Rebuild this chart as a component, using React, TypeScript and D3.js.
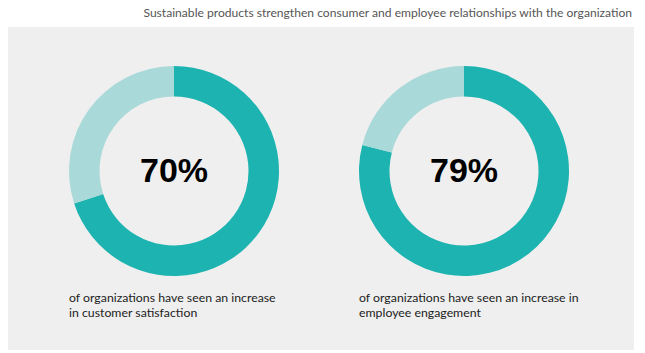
import { useEffect, useRef } from 'react';
import * as d3 from 'd3';

const title = 'Sustainable products strengthen consumer and employee relationships with the organization';
const metrics = ['customer satisfaction', 'employee engagement'];
const shares = [70, 79];
const captions = [
  ['of organizations have seen an increase', 'in customer satisfaction'],
  ['of organizations have seen an increase in', 'employee engagement'],
];

const width = 645;
const height = 353;

export default function App() {
  const svgRef = useRef<SVGSVGElement>(null);

  useEffect(() => {
    if (!svgRef.current) return;
    const svg = d3.select(svgRef.current);
    svg.selectAll('*').remove();

    // Title
    svg.append('text')
      .attr('x', 632)
      .attr('y', 17)
      .attr('text-anchor', 'end')
      .attr('font-family', 'Lato, sans-serif')
      .attr('font-size', '12.1px')
      .attr('fill', '#555')
      .text(title);

    // Panel
    svg.append('rect')
      .attr('x', 8)
      .attr('y', 27)
      .attr('width', 626)
      .attr('height', 323)
      .attr('fill', '#efefef');

    const x = d3.scaleBand<string>()
      .domain(metrics)
      .range([29, 609])
      .paddingInner(0);

    const arc = d3.arc<d3.PieArcDatum<number>>()
      .innerRadius(74.5)
      .outerRadius(105);

    const pie = d3.pie<number>().sort(null).value(d => d);

    metrics.forEach((m, i) => {
      const cx = (x(m) || 0) + x.bandwidth() / 2;
      const cy = 171;
      const g = svg.append('g').attr('transform', `translate(${cx},${cy})`);
      const value = shares[i];

      g.selectAll('path')
        .data(pie([value, 100 - value]))
        .join('path')
        .attr('d', arc)
        .attr('fill', (_, j) => (j === 0 ? '#1cb3b0' : '#a9d9d8'));

      g.append('text')
        .attr('x', 0)
        .attr('y', 11)
        .attr('text-anchor', 'middle')
        .attr('font-family', '"Liberation Sans", Arial, sans-serif')
        .attr('font-weight', 'bold')
        .attr('font-size', '34px')
        .attr('fill', '#000')
        .text(`${value}%`);

      captions[i].forEach((line, k) => {
        svg.append('text')
          .attr('x', cx - 105)
          .attr('y', 302 + k * 15)
          .attr('font-family', 'Lato, sans-serif')
          .attr('font-size', '12.3px')
          .attr('fill', '#222')
          .text(line);
      });
    });
  }, []);

  return (
    <svg
      ref={svgRef}
      width={width}
      height={height}
      style={{ position: 'absolute', left: 0, top: 0, background: '#fff' }}
    />
  );
}
